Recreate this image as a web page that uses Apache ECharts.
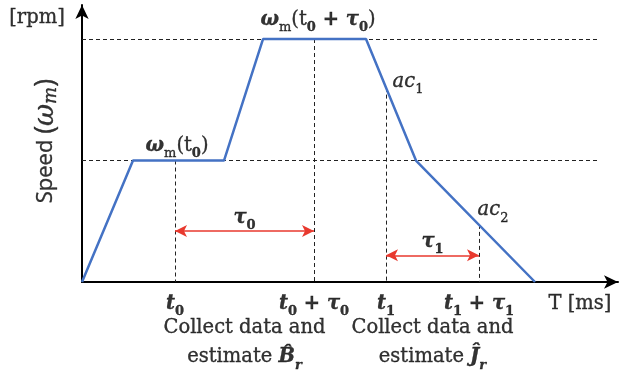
<!DOCTYPE html>
<html><head><meta charset="utf-8">
<script src="https://cdn.jsdelivr.net/npm/echarts@6/dist/echarts.min.js"></script>
<style>html,body{margin:0;padding:0;background:#fff}#c{width:636px;height:376px}</style>
</head><body><div id="c"></div>
<script>
// Speed profile (time in ms-like units, speed normalised: low level = 1, high level = 2)
const timePts  = [0, 51, 142, 181, 284, 334, 453];
const speedPts = [0, 1, 1, 2, 2, 1, 0];
// marked instants: t0, t0+tau0, t1, t1+tau1 and speed of the profile there
const markTimes  = [93, 232, 304, 397];
const markSpeeds = [1, 2, 1.6, 0.47];
const levelSpeeds = [1, 2];
const tickLabels = [
  '{bi|t}{sb|0}',
  '{bi|t}{sb|0}{b| + }{bi|τ}{sb|0}',
  '{bi|t}{sb|1}',
  '{bi|t}{sb|1}{b| + }{bi|τ}{sb|1}'
];
const intervalLabels = ['{bi|τ}{sb|0}', '{bi|τ}{sb|1}'];
const intervalLevels = [0.42, 0.22];
const noteLabels = [
  '{r|Collect data and}\n{r|estimate }{bi|B\u0302}{sbi|r}',
  '{r|Collect data and}\n{r|estimate }{bi|Ĵ}{sbi|r}'
];
const xMax = 536, yMax = 2.28;

const serif = '"DejaVu Serif", "Liberation Serif", serif';
const sans = '"Open Sans", Lato, sans-serif';
const K = '#000';
const T = {color: K, textBorderColor: K, textBorderWidth: 0.35};
const rich = {
  r:   Object.assign({fontFamily: serif, fontSize: 19.5}, T),
  b:   Object.assign({fontFamily: serif, fontSize: 19.5, fontWeight: 'bold'}, T),
  bi:  Object.assign({fontFamily: serif, fontSize: 19.5, fontWeight: 'bold', fontStyle: 'italic'}, T),
  i:   Object.assign({fontFamily: serif, fontSize: 19.5, fontStyle: 'italic'}, T),
  sb:  Object.assign({fontFamily: serif, fontSize: 13, fontWeight: 'bold', verticalAlign: 'bottom', lineHeight: 12}, T),
  sbi: Object.assign({fontFamily: serif, fontSize: 13, fontWeight: 'bold', fontStyle: 'italic', verticalAlign: 'bottom', lineHeight: 12}, T),
  sr:  Object.assign({fontFamily: serif, fontSize: 13, verticalAlign: 'bottom', lineHeight: 12}, T),
  s:   Object.assign({fontFamily: sans, fontSize: 22}, T),
  sp:  Object.assign({fontFamily: sans, fontSize: 27}, T),
  si:  Object.assign({fontFamily: serif, fontSize: 27, fontStyle: 'italic'}, T),
  ssi: Object.assign({fontFamily: serif, fontSize: 18, fontStyle: 'italic', verticalAlign: 'bottom', lineHeight: 14}, T)
};

const annotations = [
  {value: [-45, 2.17], text: '{r|[rpm]}'},
  {value: [-36, 1.16], text: '{s|Speed }{sp|(}{si|ω}{ssi|m}{sp|)}', rotate: 90},
  {value: [95, 1.12], text: '{bi|ω}{sr|m}{r|(t}{sb|0}{r|)}'},
  {value: [236, 2.16], text: '{bi|ω}{sr|m}{r|(t}{sb|0}{b| + }{bi|τ}{sb|0}{r|)}'},
  {value: [326, 1.65], text: '{i|ac}{sr|1}'},
  {value: [411, 0.59], text: '{i|ac}{sr|2}'},
  {value: [498, -0.18], text: '{r|T [ms]}'}
];
markTimes.forEach((t, k) => annotations.push({value: [t, -0.18], text: tickLabels[k]}));
[0, 1].forEach(k => {
  const mid = (markTimes[2*k] + markTimes[2*k+1]) / 2;
  annotations.push({value: [mid, intervalLevels[k] + 0.11], text: intervalLabels[k]});
  annotations.push({value: [mid, -0.5], text: noteLabels[k]});
});

const dashStyle = {color: '#222', width: 1, type: [4, 3]};
const guideLines = [];
levelSpeeds.forEach(s => guideLines.push([{coord: [0, s]}, {coord: [515, s]}]));
markTimes.forEach((t, k) => guideLines.push([{coord: [t, markSpeeds[k]]}, {coord: [t, 0]}]));
const arrowLines = [0, 1].map(k => [{coord: [markTimes[2*k], intervalLevels[k]]}, {coord: [markTimes[2*k+1], intervalLevels[k]]}]);

const chart = echarts.init(document.getElementById('c'), null, {renderer: 'canvas'});
chart.setOption({
  animation: false,
  grid: {left: 82, right: 18, top: 5, bottom: 94},
  xAxis: {type: 'value', min: 0, max: xMax, splitLine: {show: false},
    axisTick: {show: false}, axisLabel: {show: false},
    axisLine: {lineStyle: {color: '#000', width: 2}, symbol: ['none', 'arrow'], symbolSize: [10, 14]}},
  yAxis: {type: 'value', min: 0, max: yMax, splitLine: {show: false},
    axisTick: {show: false}, axisLabel: {show: false},
    axisLine: {lineStyle: {color: '#000', width: 2}, symbol: ['none', 'arrow'], symbolSize: [10, 14]}},
  series: [
    {type: 'line', data: timePts.map((t, i) => [t, speedPts[i]]), symbol: 'none', z: 3,
      lineStyle: {color: '#4472c4', width: 2.5},
      markLine: {silent: true, symbol: ['none', 'none'], label: {show: false}, lineStyle: dashStyle, data: guideLines, z: 2}},
    {type: 'line', data: [], markLine: {silent: true, symbol: ['arrow', 'arrow'], symbolSize: [9, 12],
      label: {show: false}, lineStyle: {color: '#e8392e', width: 1.5, type: 'solid'}, data: arrowLines}},
    {type: 'scatter', clip: false, symbolSize: 0, silent: true,
      data: annotations.map(a => ({value: a.value, label: {show: true, position: 'inside', formatter: a.text,
        color: K, rotate: a.rotate || 0, rich: rich, lineHeight: 29, align: 'center', verticalAlign: 'middle'}}))}
  ]
});
</script></body></html>
